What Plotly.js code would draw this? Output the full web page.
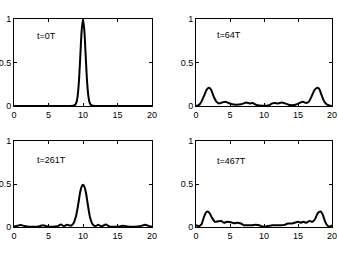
<!DOCTYPE html>
<html><head><meta charset="utf-8">
<script src="https://cdn.plot.ly/plotly-3.0.1.min.js"></script>
<style>body{margin:0;padding:0;background:#fff}#c{width:338px;height:256px}</style>
</head><body><div id="c"></div>
<script>
// t=0T
const x0 = [0, 8, 8.6, 8.8, 9.0, 9.2, 9.4, 9.6, 9.8, 10.0, 10.2, 10.4, 10.6, 10.8, 11.0, 11.2, 11.4, 12, 20];
const y0 = [0, 0, 0.002, 0.01, 0.03, 0.1, 0.27, 0.56, 0.86, 1.0, 0.86, 0.56, 0.27, 0.1, 0.03, 0.01, 0.002, 0, 0];
// t=64T
const x64 = [0, 0.4, 0.8, 1.2, 1.6, 1.9, 2.2, 2.6, 3.0, 3.4, 3.8, 4.3, 4.8, 5.3, 6.0, 6.6, 7.0, 7.4, 7.9, 8.3, 8.8, 9.3, 9.8, 10.3, 10.8, 11.2, 11.6, 12.1, 12.6, 13.1, 13.6, 14.1, 14.6, 15.1, 15.7, 16.2, 16.6, 17.0, 17.4, 17.8, 18.1, 18.4, 18.8, 19.2, 19.6, 20];
const y64 = [0, 0.01, 0.05, 0.12, 0.19, 0.21, 0.19, 0.11, 0.05, 0.03, 0.04, 0.05, 0.035, 0.02, 0.015, 0.02, 0.03, 0.04, 0.03, 0.035, 0.015, 0.005, 0.003, 0.003, 0.01, 0.03, 0.035, 0.03, 0.04, 0.03, 0.015, 0.01, 0.015, 0.03, 0.05, 0.035, 0.05, 0.11, 0.18, 0.21, 0.2, 0.14, 0.06, 0.02, 0.005, 0];
// t=261T
const x261 = [0, 0.5, 1.0, 1.5, 2.2, 3.0, 3.7, 4.2, 4.7, 5.5, 6.3, 6.8, 7.2, 7.7, 8.2, 8.6, 9.0, 9.3, 9.6, 9.8, 10.0, 10.2, 10.4, 10.7, 11.0, 11.4, 11.8, 12.2, 12.7, 13.3, 13.8, 14.5, 15.2, 15.8, 16.5, 17.5, 18.3, 19.0, 19.6, 20];
const y261 = [0.005, 0.015, 0.022, 0.012, 0.004, 0.003, 0.01, 0.02, 0.01, 0.003, 0.008, 0.03, 0.01, 0.025, 0.015, 0.04, 0.13, 0.26, 0.41, 0.47, 0.49, 0.47, 0.41, 0.26, 0.12, 0.03, 0.01, 0.025, 0.008, 0.03, 0.006, 0.003, 0.006, 0.015, 0.005, 0.003, 0.01, 0.025, 0.01, 0.005];
// t=467T
const x467 = [0, 0.4, 0.8, 1.1, 1.4, 1.7, 2.0, 2.4, 2.8, 3.2, 3.7, 4.1, 4.6, 5.1, 5.6, 6.1, 6.6, 7.1, 7.6, 8.2, 8.8, 9.3, 9.8, 10.3, 10.8, 11.3, 11.8, 12.4, 13.0, 13.5, 14.0, 14.5, 15.0, 15.4, 15.8, 16.2, 16.7, 17.1, 17.5, 17.9, 18.3, 18.6, 19.0, 19.4, 19.7, 20];
const y467 = [0.02, 0.01, 0.03, 0.1, 0.16, 0.18, 0.16, 0.1, 0.06, 0.065, 0.07, 0.05, 0.06, 0.055, 0.045, 0.05, 0.04, 0.02, 0.02, 0.02, 0.025, 0.02, 0.005, 0.005, 0.015, 0.02, 0.02, 0.02, 0.025, 0.04, 0.04, 0.05, 0.06, 0.05, 0.06, 0.05, 0.07, 0.06, 0.09, 0.16, 0.18, 0.15, 0.06, 0.01, 0.005, 0.02];

const labels = ["t=0T", "t=64T", "t=261T", "t=467T"];
const xTicks = [0, 5, 10, 15, 20];
const yTicks = [0, 0.5, 1];

const series = [[x0, y0], [x64, y64], [x261, y261], [x467, y467]];
const traces = series.map((s, i) => ({
  x: s[0], y: s[1], type: 'scatter', mode: 'lines',
  line: {color: '#000', width: 2, shape: 'spline', smoothing: 0.6},
  xaxis: i === 0 ? 'x' : 'x' + (i + 1), yaxis: i === 0 ? 'y' : 'y' + (i + 1),
  hoverinfo: 'skip', cliponaxis: true
}));

const font = {family: 'Liberation Sans, Arial, sans-serif', size: 9, color: '#000'};
function ax(domain, anchor, range, ticks) {
  return {domain: domain, anchor: anchor, range: range, tickvals: ticks,
    ticktext: ticks.map(String), ticks: 'inside', ticklen: 3, tickwidth: 1, tickcolor: '#000',
    showline: true, linecolor: '#000', linewidth: 1, mirror: 'ticks', showgrid: false,
    zeroline: false, tickfont: font, fixedrange: true};
}
const xd = [[14/338, 152/338], [196/338, 332/338]];
const yd = [[1-106/256, 1-19/256], [1-227/256, 1-141/256]];
const layout = {
  width: 338, height: 256, margin: {l: 0, r: 0, t: 0, b: 0},
  paper_bgcolor: '#fff', plot_bgcolor: '#fff', showlegend: false, font: font,
  xaxis: ax(xd[0], 'y', [0, 20], xTicks), yaxis: ax(yd[0], 'x', [0, 1], yTicks),
  xaxis2: ax(xd[1], 'y2', [0, 20], xTicks), yaxis2: ax(yd[0], 'x2', [0, 1], yTicks),
  xaxis3: ax(xd[0], 'y3', [0, 20], xTicks), yaxis3: ax(yd[1], 'x3', [0, 1], yTicks),
  xaxis4: ax(xd[1], 'y4', [0, 20], xTicks), yaxis4: ax(yd[1], 'x4', [0, 1], yTicks),
  annotations: labels.map((t, i) => ({
    text: t, x: i % 2 === 0 ? 3.0 : 2.75, y: [0.8, 0.82, 0.78, 0.77][i],
    xref: i === 0 ? 'x' : 'x' + (i + 1), yref: i === 0 ? 'y' : 'y' + (i + 1),
    xanchor: 'left', yanchor: 'middle', showarrow: false, font: font
  }))
};
Plotly.newPlot('c', traces, layout, {displayModeBar: false, staticPlot: true});
</script></body></html>
